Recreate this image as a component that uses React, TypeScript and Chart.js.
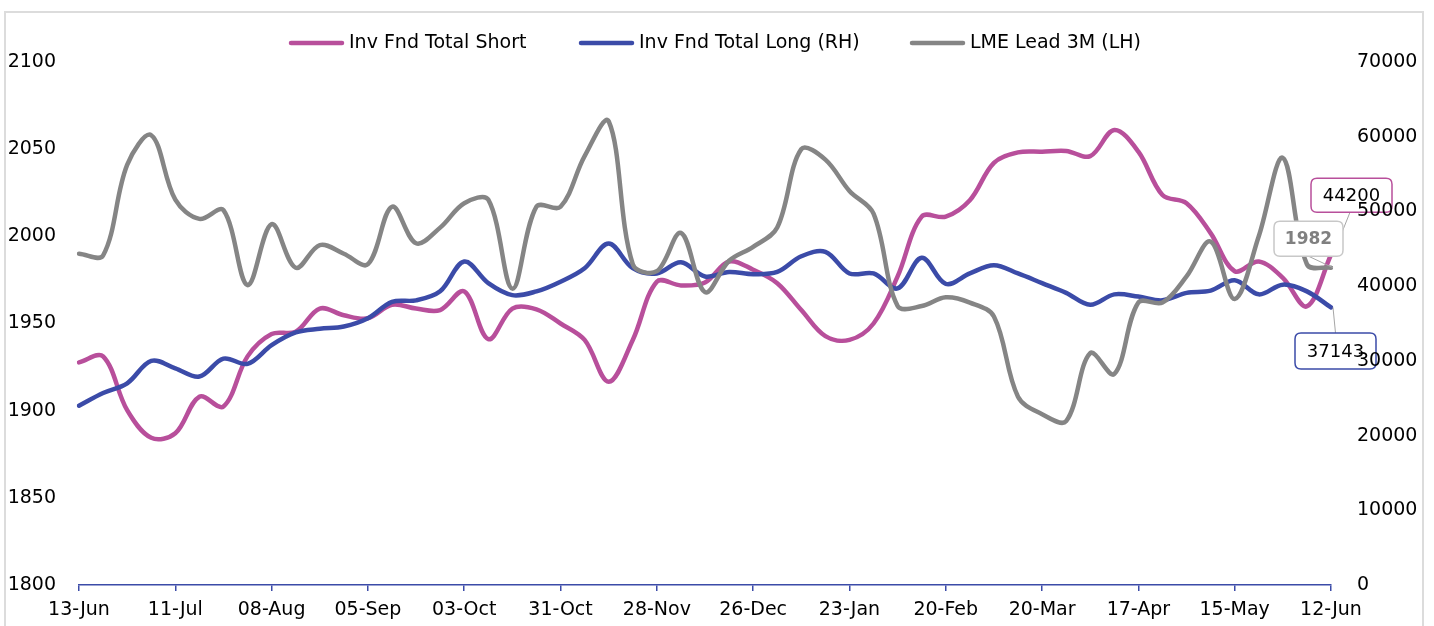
import React, { useEffect, useRef } from "react";
import { Chart, registerables } from "chart.js";

Chart.register(...registerables);

// Weekly categories
const weeks = [
  "13-Jun", "20-Jun", "27-Jun", "04-Jul", "11-Jul", "18-Jul", "25-Jul", "01-Aug",
  "08-Aug", "15-Aug", "22-Aug", "29-Aug", "05-Sep", "12-Sep", "19-Sep", "26-Sep",
  "03-Oct", "10-Oct", "17-Oct", "24-Oct", "31-Oct", "07-Nov", "14-Nov", "21-Nov",
  "28-Nov", "05-Dec", "12-Dec", "19-Dec", "26-Dec", "02-Jan", "09-Jan", "16-Jan",
  "23-Jan", "30-Jan", "06-Feb", "13-Feb", "20-Feb", "27-Feb", "06-Mar", "13-Mar",
  "20-Mar", "27-Mar", "03-Apr", "10-Apr", "17-Apr", "24-Apr", "01-May", "08-May",
  "15-May", "22-May", "29-May", "05-Jun", "12-Jun",
];

// Inv Fnd Total Short (right axis)
const invFndShort = [
  29800, 30600, 23400, 19700, 20300, 25200, 23900, 30600,
  33600, 33900, 37000, 36100, 35700, 37500, 37000, 36800,
  39300, 32900, 37000, 36900, 35000, 32800, 27200, 32800,
  40600, 40100, 40500, 43300, 42200, 40400, 36800, 33300,
  32800, 35000, 41300, 49300, 49300, 51500, 56500, 57900,
  58000, 58100, 57400, 60900, 58000, 52200, 51100, 47100,
  42000, 43300, 41100, 37300, 44200,
];

// Inv Fnd Total Long (right axis)
const invFndLong = [
  24000, 25700, 27000, 30000, 29000, 27900, 30300, 29600,
  32100, 33800, 34300, 34600, 35700, 37900, 38100, 39300,
  43300, 40400, 38800, 39300, 40600, 42400, 45700, 42400,
  41700, 43200, 41300, 41900, 41600, 41900, 44000, 44600,
  41700, 41700, 39700, 43800, 40300, 41700, 42800, 41700,
  40400, 39100, 37500, 38900, 38600, 38100, 39100, 39400,
  40800, 38900, 40200, 39300, 37143,
];

// LME Lead 3M (left axis)
const lmeLead3M = [
  1990, 1989, 2041, 2058, 2021, 2010, 2015, 1972,
  2007, 1982, 1995, 1990, 1984, 2017, 1996, 2005,
  2019, 2021, 1970, 2017, 2017, 2046, 2066, 1984,
  1980, 2002, 1968, 1986, 1994, 2005, 2050, 2044,
  2026, 2013, 1960, 1960, 1965, 1962, 1954, 1908,
  1898, 1894, 1933, 1921, 1962, 1962, 1977, 1997,
  1964, 2000, 2045, 1984, 1982,
];

const seriesNames = ["Inv Fnd Total Short", "Inv Fnd Total Long (RH)", "LME Lead 3M (LH)"];

const PINK = "#B84F9B";
const BLUE = "#3B4BA8";
const GRAY = "#858585";
const FONT = "'DejaVu Sans', Verdana, sans-serif";

export default function App() {
  const ref = useRef<HTMLCanvasElement>(null);

  useEffect(() => {
    const canvas = ref.current;
    if (!canvas) return;

    const framePlugin = {
      id: "frame",
      beforeDraw(chart: any) {
        const ctx = chart.ctx;
        ctx.save();
        ctx.fillStyle = "#ffffff";
        ctx.fillRect(0, 0, chart.width, chart.height);
        ctx.strokeStyle = "#dcdcdc";
        ctx.lineWidth = 2;
        ctx.strokeRect(5, 12, 1418, 700);
        ctx.restore();
      },
    };

    const legendPlugin = {
      id: "customLegend",
      afterDraw(chart: any) {
        const ctx = chart.ctx;
        const starts = [289, 579, 910];
        const colors = [PINK, BLUE, GRAY];
        ctx.save();
        ctx.font = `19px ${FONT}`;
        ctx.textBaseline = "middle";
        ctx.textAlign = "left";
        seriesNames.forEach((name, i) => {
          const s = starts[i];
          ctx.strokeStyle = colors[i];
          ctx.lineWidth = 4.5;
          ctx.lineCap = "round";
          ctx.beginPath();
          ctx.moveTo(s + 2, 43);
          ctx.lineTo(s + 53, 43);
          ctx.stroke();
          ctx.fillStyle = "#000";
          ctx.fillText(name, s + 60, 43);
        });
        ctx.restore();
      },
    };

    const roundRect = (ctx: CanvasRenderingContext2D, x: number, y: number, w: number, h: number, r: number) => {
      ctx.beginPath();
      ctx.moveTo(x + r, y);
      ctx.lineTo(x + w - r, y);
      ctx.quadraticCurveTo(x + w, y, x + w, y + r);
      ctx.lineTo(x + w, y + h - r);
      ctx.quadraticCurveTo(x + w, y + h, x + w - r, y + h);
      ctx.lineTo(x + r, y + h);
      ctx.quadraticCurveTo(x, y + h, x, y + h - r);
      ctx.lineTo(x, y + r);
      ctx.quadraticCurveTo(x, y, x + r, y);
      ctx.closePath();
    };

    const endLabelsPlugin = {
      id: "endLabels",
      afterDatasetsDraw(chart: any) {
        const ctx = chart.ctx;
        const last = weeks.length - 1;
        const px = chart.scales.x.getPixelForValue(last);
        const items = [
          { val: invFndShort[last], scale: "y1", border: PINK, text: "#000", font: `18px ${FONT}`, dx: 20.5, dy: -59.5, w: 81, h: 34, lx: -1.5, ly: 17 },
          { val: lmeLead3M[last], scale: "y", border: "#c8c8c8", text: "#808080", font: `bold 17px ${FONT}`, dx: -22.5, dy: -29, w: 69, h: 35, lx: 0, ly: 17.5 },
          { val: invFndLong[last], scale: "y1", border: BLUE, text: "#000", font: `18px ${FONT}`, dx: 4.5, dy: 43.5, w: 81, h: 36, lx: 0, ly: -18 },
        ];
        ctx.save();
        // leader lines
        items.forEach((it) => {
          const py = chart.scales[it.scale].getPixelForValue(it.val);
          const cx = px + it.dx;
          const cy = py + it.dy;
          ctx.strokeStyle = "#a6a6a6";
          ctx.lineWidth = 1;
          ctx.beginPath();
          ctx.moveTo(cx + it.lx, cy + it.ly);
          ctx.lineTo(px + 2, py);
          ctx.stroke();
        });
        // boxes
        items.forEach((it) => {
          const py = chart.scales[it.scale].getPixelForValue(it.val);
          const cx = px + it.dx;
          const cy = py + it.dy;
          roundRect(ctx, cx - it.w / 2, cy - it.h / 2, it.w, it.h, 6);
          ctx.fillStyle = "#ffffff";
          ctx.fill();
          ctx.strokeStyle = it.border;
          ctx.lineWidth = 1.5;
          ctx.stroke();
          ctx.fillStyle = it.text;
          ctx.font = it.font;
          ctx.textAlign = "center";
          ctx.textBaseline = "middle";
          ctx.fillText(String(it.val), cx, cy + 1);
        });
        ctx.restore();
      },
    };

    const tickFont = { family: FONT, size: 19 };

    const chart = new Chart(canvas, {
      type: "line",
      data: {
        labels: weeks,
        datasets: [
          { label: seriesNames[0], data: invFndShort, yAxisID: "y1", borderColor: PINK, backgroundColor: PINK, order: 3 },
          { label: seriesNames[1], data: invFndLong, yAxisID: "y1", borderColor: BLUE, backgroundColor: BLUE, order: 2 },
          { label: seriesNames[2], data: lmeLead3M, yAxisID: "y", borderColor: GRAY, backgroundColor: GRAY, order: 1 },
        ],
      },
      options: {
        responsive: false,
        animation: false,
        devicePixelRatio: 1,
        layout: { padding: { top: 62, left: 0, right: 0, bottom: 0 } },
        plugins: { legend: { display: false }, tooltip: { enabled: false } },
        elements: {
          point: { radius: 0, hoverRadius: 0 },
          line: { tension: 0.35, borderWidth: 4.5, borderCapStyle: "round", borderJoinStyle: "round" },
        },
        scales: {
          x: {
            type: "category",
            offset: false,
            grid: {
              display: true,
              drawOnChartArea: false,
              drawTicks: true,
              tickLength: 6,
              lineWidth: 1.5,
              color: (c: any) => (c.index % 4 === 0 ? BLUE : "rgba(0,0,0,0)"),
            },
            border: { display: true, color: BLUE, width: 1.5 },
            ticks: {
              autoSkip: false,
              maxRotation: 0,
              minRotation: 0,
              padding: 8,
              color: "#000",
              font: tickFont,
              callback: (_v: any, i: number) => (i % 4 === 0 ? weeks[i] : ""),
            },
            afterFit: (s: any) => {
              s.height = 41;
            },
          },
          y: {
            position: "left",
            min: 1800,
            max: 2100,
            grid: { display: false, drawTicks: false },
            border: { display: false },
            ticks: { stepSize: 50, padding: 23, color: "#000", font: tickFont, callback: (v: any) => String(v) },
            afterFit: (s: any) => {
              s.width = 79;
            },
          },
          y1: {
            position: "right",
            min: 0,
            max: 70000,
            grid: { display: false, drawTicks: false },
            border: { display: false },
            ticks: { z: 1, stepSize: 10000, padding: 26, color: "#000", font: tickFont, callback: (v: any) => String(v) },
            afterFit: (s: any) => {
              s.width = 103;
            },
          },
        },
      } as any,
      plugins: [framePlugin, legendPlugin, endLabelsPlugin],
    });

    return () => chart.destroy();
  }, []);

  return (
    <div style={{ position: "fixed", left: 0, top: 0, width: 1434, height: 626, background: "#fff" }}>
      <canvas ref={ref} width={1434} height={626} style={{ display: "block", width: 1434, height: 626 }} />
    </div>
  );
}
